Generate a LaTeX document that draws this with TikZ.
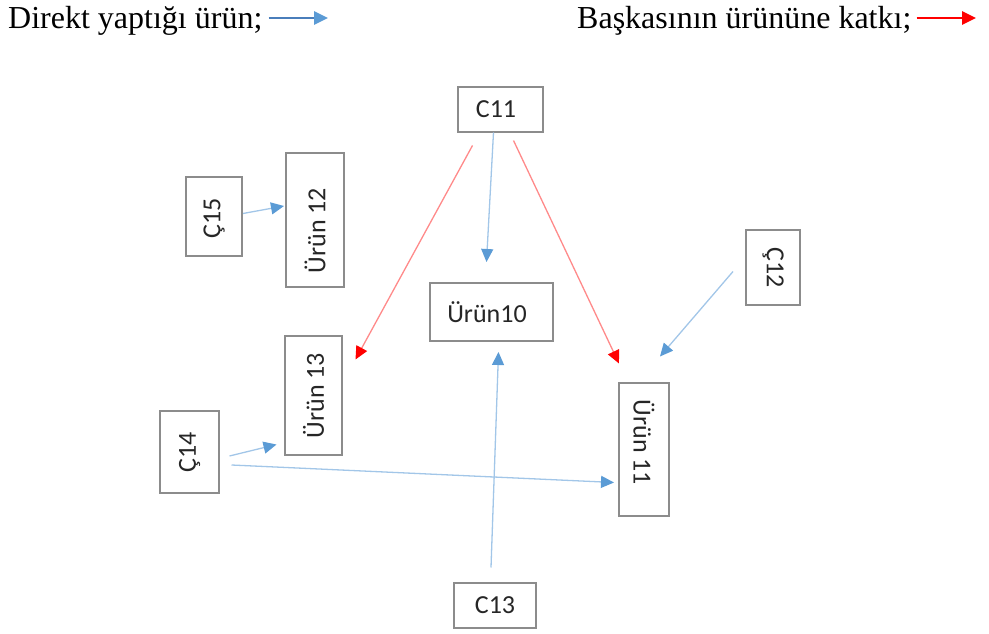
\documentclass[tikz,border=0pt]{standalone}
\usepackage{fontspec}
\setmainfont{Liberation Serif}
\newfontfamily\boxfont{Carlito}
\usetikzlibrary{arrows.meta,calc}

\definecolor{lineblue}{HTML}{A2C6E8}
\definecolor{headblue}{HTML}{5B9BD5}
\definecolor{legblue}{HTML}{4A7EBB}
\definecolor{linered}{HTML}{FF8A8A}
\definecolor{headred}{HTML}{FF0000}
\definecolor{boxgray}{HTML}{8C8C8C}
\definecolor{txtgray}{HTML}{262626}

\tikzset{
  box/.style={draw=boxgray, line width=1.5pt, fill=white, inner sep=0pt,
    font=\boxfont\fontsize{26}{30}\selectfont, text=txtgray, align=center},
  own/.style={draw=lineblue, line width=1.3pt,
    -{Triangle[length=13pt, width=12pt, color=headblue]}},
  other/.style={draw=linered, line width=1.3pt,
    -{Triangle[length=13pt, width=12pt, color=headred]}},
  legtext/.style={font=\fontsize{32}{36}\selectfont, inner sep=0pt, anchor=base west},
}

\begin{document}
\begin{tikzpicture}[x=1pt, y=-1pt]
\useasboundingbox (0,0) rectangle (989,634);

% legend
\node[legtext] (legown) at (8,29) {Direkt yaptığı ürün;};
\coordinate (legownend) at (328,18);
\draw[draw=legblue, line width=2.6pt, -{Triangle[length=14pt, width=13pt, color=headblue]}]
  ([xshift=6pt]legown.east |- legownend) -- (legownend);

\node[legtext] (legother) at (577,29) {Başkasının ürününe katkı;};
\coordinate (legotherend) at (976,18);
\draw[draw=headred, line width=2.6pt, -{Triangle[length=14pt, width=13pt, color=headred]}]
  ([xshift=5pt]legother.east |- legotherend) -- (legotherend);

% boxes
\node[box, minimum width=85pt, minimum height=45pt] (c11) at (500.5,109.5) {\raisebox{-3pt}{C11}\hspace*{9pt}};
\node[box, minimum width=123pt, minimum height=58pt] (u10) at (491.5,312) {Ürün10\hspace*{9pt}};
\node[box, rotate=90, minimum width=79pt, minimum height=56pt] (c15) at (214,216.5) {Ç15\hspace*{4pt}};
\node[box, rotate=90, minimum width=134pt, minimum height=58pt] (u12) at (315,220) {Ürün 12\hspace*{21pt}};
\node[box, rotate=90, minimum width=119pt, minimum height=57pt] (u13) at (313.5,395.5) {Ürün 13};
\node[box, rotate=90, minimum width=82pt, minimum height=59pt] (c14) at (189.5,452) {Ç14};
\node[box, rotate=-90, minimum width=75pt, minimum height=54pt] (c12) at (773,267.5) {Ç12};
\node[box, rotate=-90, minimum width=133pt, minimum height=50pt] (u11) at (644,449.5) {Ürün 11\hspace*{14pt}};
\node[box, minimum width=82pt, minimum height=45pt] (c13) at (495,605.5) {C13};

% direct products
\draw[own] ($(c15.center)+(29,-3)$) -- ($(u12.center)+(-31,-14)$);
\draw[own] ($(c11.center)+(-7,23)$) -- ($(u10.center)+(-5,-50)$);
\draw[own] ($(c13.center)+(-4,-38)$) -- ($(u10.center)+(7,40)$);
\draw[own] ($(c12.center)+(-40,4)$) -- ($(u11.center)+(16,-93)$);
\draw[own] ($(c14.center)+(40,4)$) -- ($(u13.center)+(-37,49)$);
\draw[own] ($(c14.center)+(42,13)$) -- ($(u11.center)+(-30,33)$);

% contributions to others' products
\draw[other] ($(c11.center)+(-28,36)$) -- ($(u13.center)+(42,-36)$);
\draw[other] ($(c11.center)+(13,31)$) -- ($(u11.center)+(-25,-86)$);
\end{tikzpicture}
\end{document}
